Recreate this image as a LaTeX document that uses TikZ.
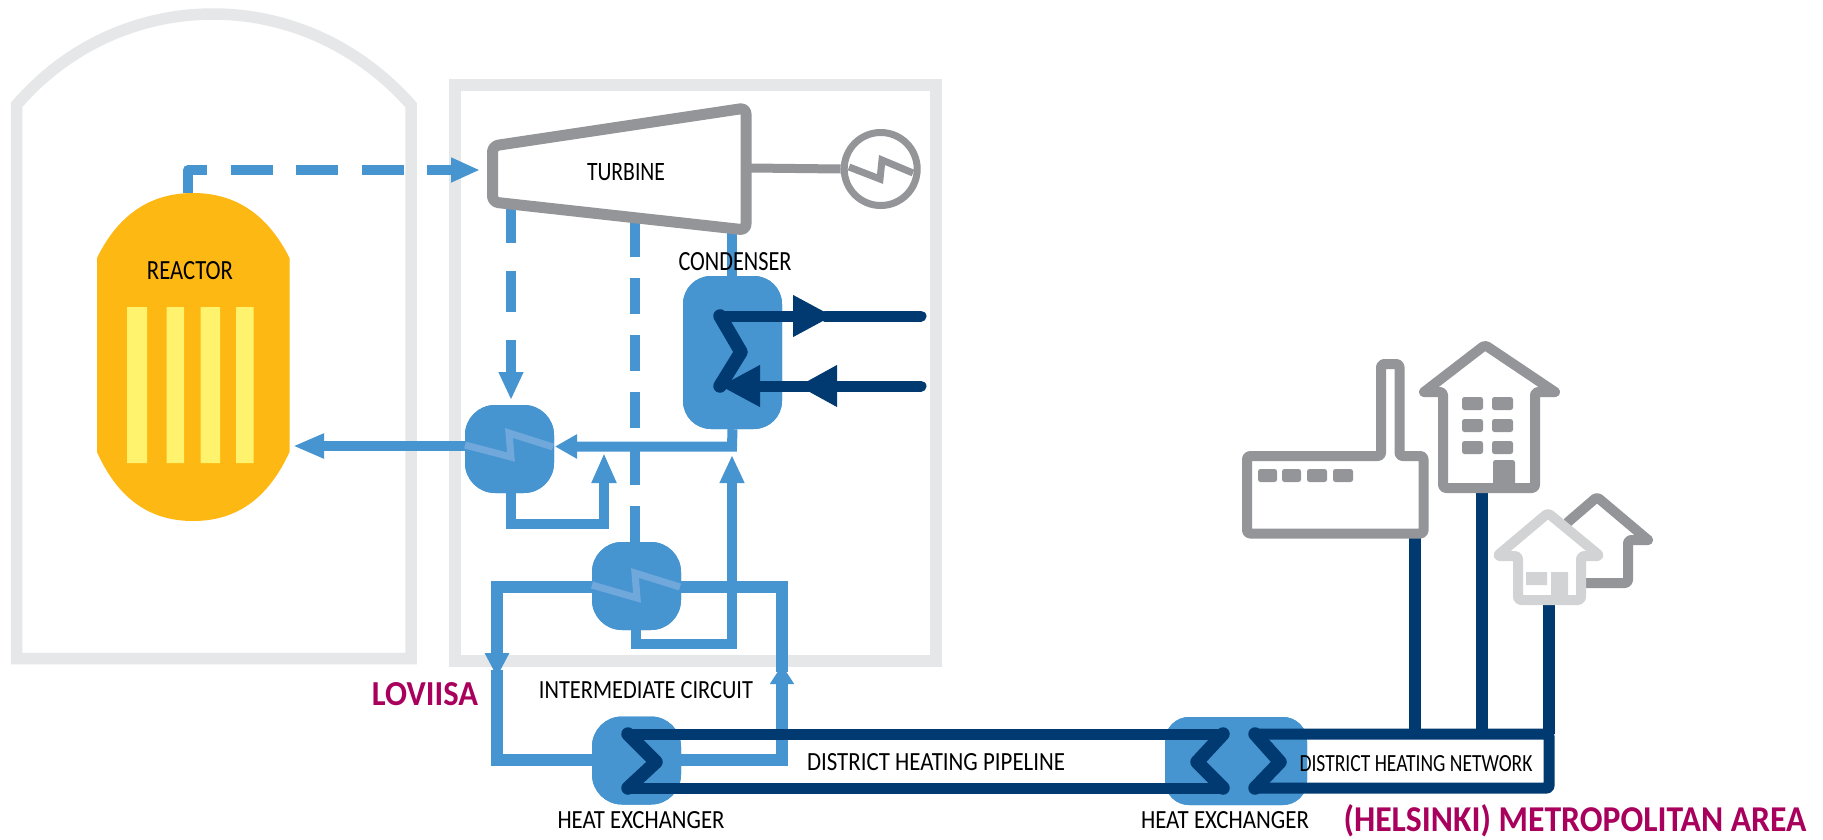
\documentclass[tikz,border=0pt]{standalone}
\usepackage{graphicx}
\usepackage{fontspec}
\setmainfont{Carlito}
\usetikzlibrary{arrows.meta}
\definecolor{wallgray}{HTML}{E6E7E8}
\definecolor{steelgray}{HTML}{939598}
\definecolor{palegray}{HTML}{D1D3D4}
\definecolor{pipeblue}{HTML}{4695D1}
\definecolor{coilblue}{HTML}{70A8DC}
\definecolor{navy}{HTML}{003A70}
\definecolor{coreorange}{HTML}{FDB813}
\definecolor{rodyellow}{HTML}{FFF36D}
\definecolor{placered}{HTML}{A8005C}
\newcommand{\fitbox}[3]{\resizebox{#1pt}{#2pt}{#3}}
\tikzset{
  wall/.style={draw=wallgray,line width=11.5pt},
  pipe/.style={draw=pipeblue,line width=10pt},
  pipeloop/.style={draw=pipeblue,line width=11.5pt},
  navypipe/.style={draw=navy,line width=11pt,line cap=round,line join=round},
  navyzig/.style={draw=navy,line width=13.5pt,line cap=round,line join=round},
  netpipe/.style={draw=navy,line width=12pt},
  coil/.style={draw=coilblue,line width=7pt},
  gray line/.style={draw=steelgray,line width=10pt,rounded corners=3pt,line join=round,line cap=round},
  pale line/.style={draw=palegray,line width=10pt,rounded corners=3pt,line join=round,line cap=round},
  hx/.style={fill=pipeblue,inner sep=0pt,rounded corners=30pt,minimum width=89pt,minimum height=88pt},
  tip/.style={-{Triangle[length=#1,width=23pt]}},
  lbl/.style={inner sep=0pt,text=black},
  place/.style={inner sep=0pt,text=placered},
  winbox/.style={fill=steelgray,rounded corners=2.5pt},
}
\begin{document}
\begin{tikzpicture}[x=1pt,y=-1pt]
\path[use as bounding box,fill=white] (0,0) rectangle (1823,839);
% buildings
\draw[wall] (16.5,664) -- (16.5,105) .. controls (68,45) and (140,14) .. (213,14) .. controls (286,14) and (358,45) .. (411,105) -- (411,664) (10.75,658.5) -- (416.75,658.5);
\draw[wall] (455,85) rectangle (936,661);
% reactor
\fill[coreorange] (97,258) .. controls (118,215) and (150,193) .. (193,193) .. controls (236,193) and (268,215) .. (289.5,258) -- (289.5,452) .. controls (268,499) and (236,521) .. (193,521) .. controls (150,521) and (118,499) .. (97,452) -- cycle;
\fill[rodyellow] (127,307) rectangle (147,463) (166.5,307) rectangle (184,463) (200.5,307) rectangle (220,463) (236,307) rectangle (253.5,463);
\node[lbl] (reactorlabel) at (190,271) {\fitbox{86}{18}{REACTOR}};
% named points
\coordinate (reactortop) at (188,193);
\coordinate (steamcorner) at (188,170);
\coordinate (turbinein) at (480,170);
\coordinate (tapa) at (511,202);
\coordinate (tapaend) at (511,400);
\coordinate (tapb) at (635,221);
\coordinate (turbout) at (732,228);
\coordinate (condin) at (732,276);
\coordinate (condjoin) at (732,446.5);
\coordinate (reactorback) at (293,446);
% heat exchangers (positions for the connectors)
\node[hx] (preheat) at (509.5,449) {};
\node[hx] (imhx) at (636.5,586) {};
\node[hx] (dhone) at (636.5,760.5) {};
\node[hx,minimum width=142pt,rounded corners=24pt] (dhtwo) at (1236,761) {};
\node[hx,minimum width=99pt,minimum height=153pt,rounded corners=28pt] (condenser) at (732.5,352.5) {};
% steam and water
\draw[pipe,line join=round,dash pattern=on 42pt off 23.5pt,tip=29pt] (reactortop) -- (steamcorner) -- (turbinein);
\draw[pipe,dash pattern=on 41pt off 28pt,tip=28pt] (tapa) -- (tapaend);
\draw[pipe,dash pattern=on 36pt off 21pt] (tapb) -- (635,542);
\draw[pipe] (turbout) -- (condin);
\draw[pipe,tip=22pt] (condenser.south) -- (condjoin) -- (555,446.5);
\draw[pipe,tip=31pt] (465,446) -- (reactorback);
\draw[pipe,tip=30pt] (511,493) -- (511,523.5) -- (604,523.5) -- (604,453);
\draw[pipe,tip=28pt] (636,630) -- (636,644) -- (732,644) -- (732,455);
% intermediate circuit
\coordinate (downtip) at (497,677);
\coordinate (uptip) at (782,665);
\draw[pipeloop,tip=24pt] (imhx.west |- 0,587) -- (497,587) -- (downtip);
\draw[pipeloop] (497,670) -- (497,760) -- (592,760);
\draw[pipeloop,tip=19pt] (681,760) -- (782,760) -- (uptip);
\draw[pipeloop] (782,672) -- (782,587) -- (681,587);
% heat exchangers again, over the pipes
\node[hx] at (509.5,449) {};
\node[hx] at (636.5,586) {};
\node[hx] at (636.5,760.5) {};
\node[hx,minimum width=142pt,rounded corners=24pt] at (1236,761) {};
\node[hx,minimum width=99pt,minimum height=153pt,rounded corners=28pt] at (732.5,352.5) {};
\draw[coil] (465,445) -- (511,457) -- (509,433) -- (553,447);
\draw[coil] (592,585) -- (637,598) -- (635,573) -- (680,587);
% condenser coil
\coordinate (coolin) at (921,386);
\coordinate (coolout) at (921,316);
\draw[navypipe,-{Triangle[length=39pt,width=39pt]}] (coolin) -- (798,386);
\draw[navypipe,-{Triangle[length=40pt,width=39pt]}] (825,386) -- (720,386);
\draw[navypipe,-{Triangle[length=40pt,width=39pt]}] (720,316) -- (833,316);
\draw[navyzig] (720,386) -- (741,352) -- (720,316);
\draw[navypipe] (825,316) -- (coolout);
% pipeline
\draw[navypipe] (1223,734) -- (628,734);
\draw[navypipe] (628,788) -- (1223,788);
\draw[navyzig] (628,734) -- (656,762) -- (628,788);
\draw[navyzig] (1223,734) -- (1197,762) -- (1223,788);
\draw[navyzig] (1255,734) -- (1280,762) -- (1255,788);
\draw[navypipe,rounded corners=2pt] (1255,734) -- (1549,734) -- (1549,788) -- (1255,788);
\draw[netpipe] (1414.5,538) -- (1414.5,734);
\draw[netpipe] (1482,493) -- (1482,734);
\draw[netpipe] (1548.5,604) -- (1548.5,734);
% turbine and generator
\draw[draw=steelgray,line width=11pt,rounded corners=6pt,line join=round] (492.5,146) -- (746,108) -- (746,230) -- (492.5,202) -- cycle;
\node[lbl] (turbine) at (626,172) {\fitbox{78}{17}{TURBINE}};
\node[circle,draw=steelgray,line width=7pt,minimum size=73pt,inner sep=0pt] (generator) at (880.7,169) {};
\coordinate (shaft) at (751,168);
\draw[draw=steelgray,line width=9pt] (shaft) -- (generator.west);
\draw[draw=steelgray,line width=7pt] (849,167) -- (880,179) -- (882,160) -- (913,173);
% factory
\draw[gray line] (1247,456) -- (1381,456) -- (1381,364) -- (1399.5,364) -- (1399.5,456) -- (1423.5,456) -- (1423.5,533.5) -- (1247,533.5) -- cycle;
\fill[winbox] (1258,469) rectangle (1277,482);
\fill[winbox] (1282,469) rectangle (1301,482);
\fill[winbox] (1307,469) rectangle (1327,482);
\fill[winbox] (1333,469) rectangle (1353,482);
% block of flats
\draw[gray line] (1424,392) -- (1485,345) -- (1555,392);
\draw[gray line] (1424,392) -- (1443,392) -- (1443,488) -- (1535,488) -- (1535,392) -- (1555,392);
\fill[winbox] (1462,397) rectangle (1483,410) (1492,397) rectangle (1513,410);
\fill[winbox] (1462,419) rectangle (1483,432) (1492,419) rectangle (1513,432);
\fill[winbox] (1462,441) rectangle (1483,454) (1492,441) rectangle (1513,454);
\fill[winbox] (1493,460) rectangle (1515,487);
% houses
\draw[gray line] (1568,522) -- (1597,497) -- (1648,540);
\draw[gray line] (1648,540) -- (1628,540) -- (1628,583) -- (1585,583);
\draw[pale line] (1497,556) -- (1548,513) -- (1600,556) -- (1581,556) -- (1581,600) -- (1518,600) -- (1518,556) -- cycle;
\fill[palegray] (1526,572) rectangle (1547,585) (1551,572) rectangle (1568,597);
% labels
\node[lbl] (condlabel) at (735,262) {\fitbox{113}{18}{CONDENSER}};
\node[lbl] (imlabel) at (646,690) {\fitbox{214}{17}{INTERMEDIATE CIRCUIT}};
\node[lbl] (hxlabela) at (641,820) {\fitbox{167}{17}{HEAT EXCHANGER}};
\node[lbl] (hxlabelb) at (1225,820) {\fitbox{168}{17}{HEAT EXCHANGER}};
\node[lbl] (pipelabel) at (936,762) {\fitbox{258}{17}{DISTRICT HEATING PIPELINE}};
\node[lbl] (netlabel) at (1416,764) {\fitbox{233}{16}{DISTRICT HEATING NETWORK}};
\node[place] (loviisa) at (425,694.5) {\fitbox{106}{23}{\bfseries LOVIISA}};
\node[place] (helsinki) at (1575,821) {\fitbox{463}{27}{\bfseries (HELSINKI) METROPOLITAN AREA}};
\end{tikzpicture}
\end{document}
